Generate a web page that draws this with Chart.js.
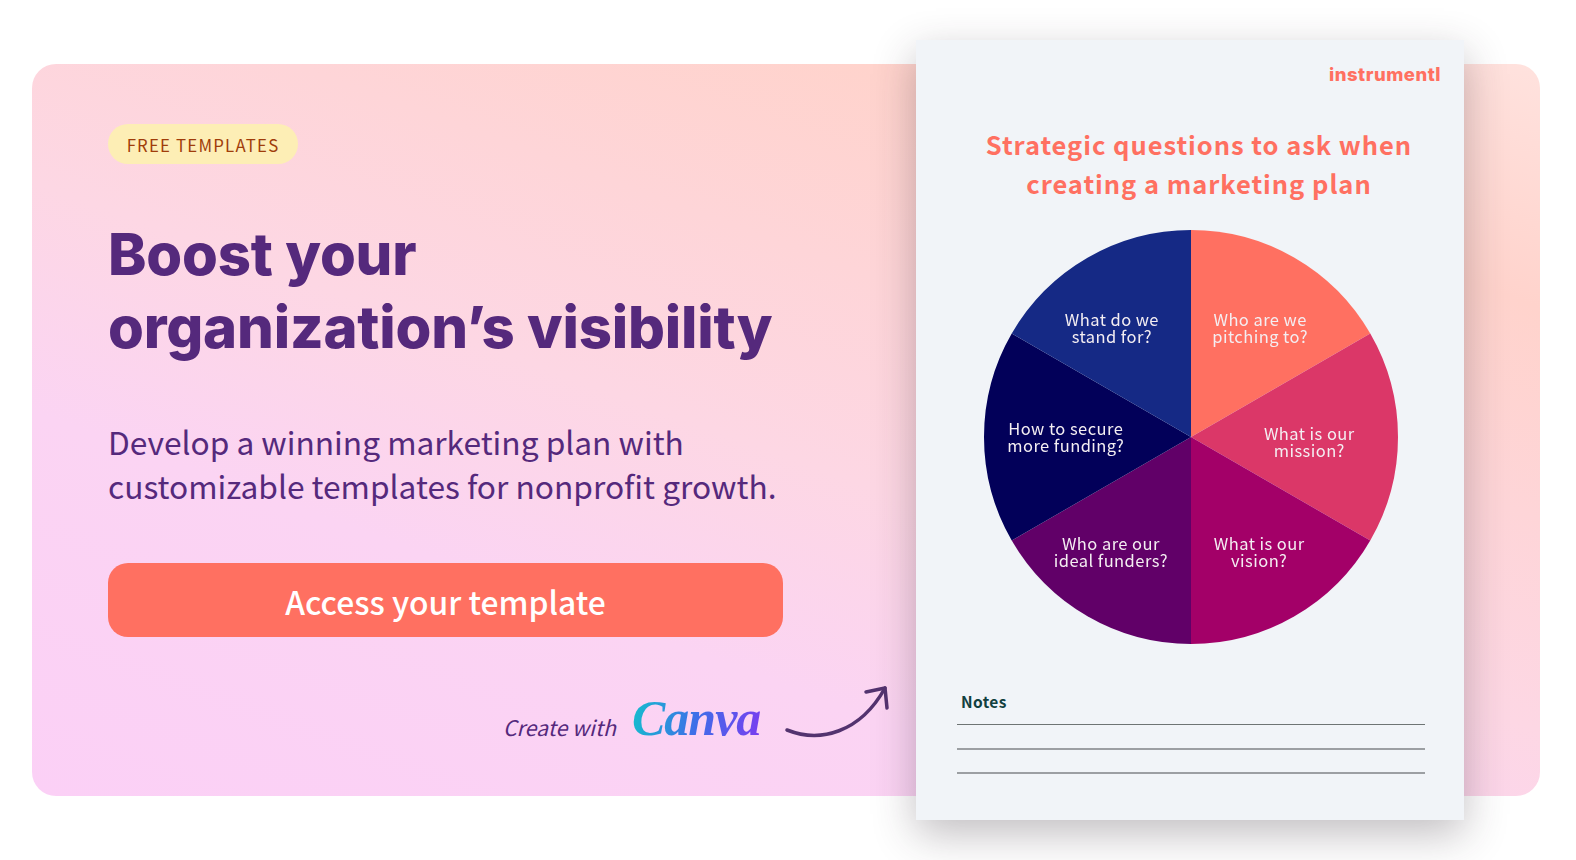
<!DOCTYPE html>
<html>
<head>
<meta charset="utf-8">
<script src="https://cdn.jsdelivr.net/npm/chart.js@4"></script>
<style>
  html, body { margin: 0; padding: 0; background: #fff; }
  body { width: 1576px; height: 860px; position: relative; overflow: hidden; font-family: "Noto Sans CJK SC", "Noto Sans", sans-serif; }
  .abs { position: absolute; white-space: nowrap; }
  #card { left: 32px; top: 64px; width: 1508px; height: 732px; border-radius: 24px;
    background: linear-gradient(20deg, #fbd0f6 0%, #fbd4f3 30%, #fdd7e4 48%, #ffd3cc 81%, #ffe2de 100%); }
  #pill { left: 108px; top: 124px; width: 190px; height: 40px; border-radius: 20px; background: #fdeeb5;
    color: #a03d0a; font-size: 16.8px; line-height: 42px; text-align: center; letter-spacing: 1.2px; }
  #head { left: 108px; top: 218px; color: #55297c; font-family: Inter, sans-serif; font-weight: 800;
    font-size: 58px; line-height: 73px; letter-spacing: -0.2px; }
  #sub { left: 108px; top: 419px; color: #55297c; font-size: 31.7px; line-height: 44px; }
  #btn { left: 108px; top: 563px; width: 675px; height: 74px; border-radius: 20px; background: #ff7061;
    color: #fff; font-size: 31.8px; font-weight: 500; line-height: 76px; text-align: center; }
  #create { left: 503px; top: 711px; color: #55297c; font-size: 21.3px; font-style: italic; line-height: 32px; }
  #canva { left: 632px; top: 685px; font-family: "Liberation Serif", serif; font-style: italic; font-weight: 700;
    font-size: 50px; line-height: 66px; letter-spacing: -1px;
    background: linear-gradient(100deg, #12c2cc 0%, #3e6fe8 50%, #7a3cf0 100%);
    -webkit-background-clip: text; background-clip: text; color: transparent; }
  #sheet { left: 916px; top: 40px; width: 548px; height: 780px; background: #f1f4f8;
    box-shadow: 0 14px 40px rgba(50, 40, 50, .3); }
  #brand { left: 1329px; top: 59px; color: #ff7061; font-family: Inter, sans-serif; font-weight: 800; font-size: 18.5px; line-height: 30px; letter-spacing: .5px; }
  #title { left: 916px; top: 124px; width: 566px; text-align: center; color: #ff7061; font-weight: 700;
    font-size: 25.5px; line-height: 39px; letter-spacing: .95px; }
  #notes { left: 961px; top: 691px; color: #12403f; font-size: 15.5px; font-weight: 700; line-height: 20px; letter-spacing: .4px; }
  .rule { left: 957px; width: 468px; height: 0; }
  #pie { position: absolute; left: 980px; top: 226px; }
  #arrow { left: 775px; top: 675px; }
</style>
</head>
<body>
<div class="abs" id="card"></div>
<div class="abs" id="pill">FREE TEMPLATES</div>
<div class="abs" id="head">Boost your<br>organization’s visibility</div>
<div class="abs" id="sub">Develop a winning marketing plan with<br>customizable templates for nonprofit growth.</div>
<div class="abs" id="btn">Access your template</div>
<div class="abs" id="create">Create with</div>
<div class="abs" id="canva">Canva</div>
<svg class="abs" id="arrow" width="120" height="70" fill="none" stroke="#53336f" stroke-width="3.5" stroke-linecap="round" stroke-linejoin="round">
  <path d="M12 55 C45 68 85 58 110 13"/>
  <path d="M91 17 L110 13 L112 33"/>
</svg>
<div class="abs" id="sheet"></div>
<div class="abs" id="brand">instrumentl</div>
<div class="abs" id="title">Strategic questions to ask when<br>creating a marketing plan</div>
<canvas id="pie" width="422" height="422"></canvas>
<div class="abs" id="notes">Notes</div>
<div class="abs rule" style="top:724px;border-top:1.5px solid #6e7474"></div>
<div class="abs rule" style="top:747.5px;border-top:2px solid #9c9fa3"></div>
<div class="abs rule" style="top:771.5px;border-top:2px solid #9c9fa3"></div>

<script>
// Pie data
const questions = [
  ['Who are we', 'pitching to?'],
  ['What is our', 'mission?'],
  ['What is our', 'vision?'],
  ['Who are our', 'ideal funders?'],
  ['How to secure', 'more funding?'],
  ['What do we', 'stand for?']
];
const shares = [1, 1, 1, 1, 1, 1];
const sliceColors = ['#ff7061', '#db3768', '#a30068', '#610068', '#020059', '#152985'];

// label offset from each slice's own centre, [dx, dy]
const labelNudge = [[6, 1], [-8, 5], [5, 6], [-17, 6], [1, 0], [-16, 1]];

const sliceLabels = {
  id: 'sliceLabels',
  afterDatasetsDraw(chart) {
    const { ctx } = chart;
    ctx.save();
    ctx.fillStyle = '#f4eef2';
    ctx.font = '16.5px "Noto Sans CJK SC"';
    ctx.letterSpacing = '0.45px';
    ctx.textAlign = 'center';
    ctx.textBaseline = 'middle';
    chart.getDatasetMeta(0).data.forEach((arc, i) => {
      const mid = (arc.startAngle + arc.endAngle) / 2;
      const r = arc.outerRadius * 0.61;
      const x = arc.x + Math.cos(mid) * r + labelNudge[i][0];
      const y = arc.y + Math.sin(mid) * r + labelNudge[i][1];
      ctx.fillText(questions[i][0], x, y - 8.5);
      ctx.fillText(questions[i][1], x, y + 8.5);
    });
    ctx.restore();
  }
};

new Chart(document.getElementById('pie'), {
  type: 'pie',
  data: {
    labels: questions.map(q => q.join(' ')),
    datasets: [{ data: shares, backgroundColor: sliceColors, borderWidth: 0 }]
  },
  options: {
    responsive: false,
    animation: false,
    layout: { padding: 4 },
    plugins: { legend: { display: false }, tooltip: { enabled: false } }
  },
  plugins: [sliceLabels]
});
</script>
</body>
</html>
